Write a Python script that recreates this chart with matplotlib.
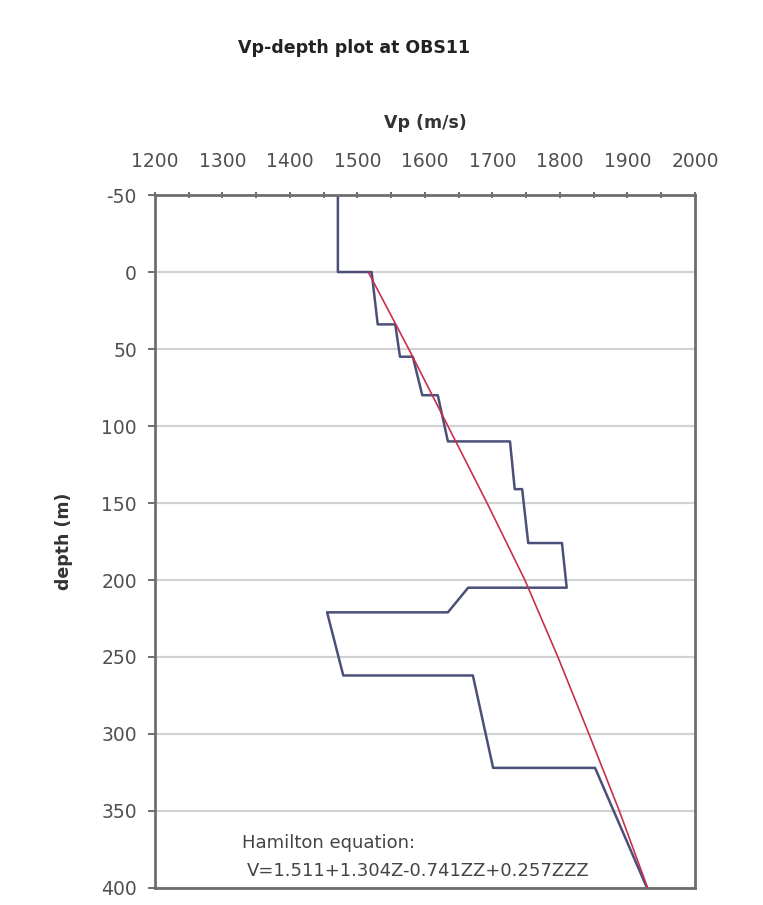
import matplotlib
matplotlib.use("Agg")
import matplotlib.pyplot as plt
from matplotlib.ticker import MultipleLocator

plt.rcParams['font.family'] = ['DejaVu Sans']
plt.rcParams['axes.unicode_minus'] = False

vp_obs = [1471, 1471, 1521, 1530, 1556, 1563, 1582, 1596, 1619, 1634, 1726,
          1733, 1744, 1753, 1803, 1810, 1664, 1634, 1455, 1479, 1671, 1701,
          1852, 1930]
depth_obs = [-50, 0, 0, 34, 34, 55, 55, 80, 80, 110, 110,
             141, 141, 176, 176, 205, 205, 221, 221, 262, 262, 322,
             322, 401]

depth_ham = [0, 50, 100, 150, 200, 250, 300, 350, 400]
vp_ham = [1516, 1576, 1634, 1692, 1748, 1797, 1843, 1888, 1930]

fig = plt.figure(figsize=(7.63, 9.05), dpi=100)
ax = fig.add_axes([0.2031, 0.0188, 0.7077, 0.7657])

ax.plot(vp_ham, depth_ham, color='#c8304f', lw=1.2, zorder=3)
ax.plot(vp_obs, depth_obs, color='#4b5078', lw=1.8, zorder=2)

ax.set_xlim(1200, 2000)
ax.set_ylim(400, -50)
ax.xaxis.tick_top()
ax.xaxis.set_label_position('top')
ax.xaxis.set_major_locator(MultipleLocator(100))
ax.xaxis.set_minor_locator(MultipleLocator(50))
ax.yaxis.set_major_locator(MultipleLocator(50))
ax.tick_params(axis='x', which='both', direction='inout', length=5, width=1.2,
               color='#555555', labelsize=13.5, labelcolor='#505050', pad=15)
ax.tick_params(axis='y', direction='out', length=5, width=1.2, color='#555555',
               labelsize=13.5, labelcolor='#505050', pad=8)

ax.grid(axis='y', color='#d2d2d2', lw=1.6)
for s in ax.spines.values():
    s.set_color('#6e6e6e')
    s.set_linewidth(2)

ax.set_xlabel('Vp (m/s)', fontsize=12.5, fontweight='bold', color='#333333', labelpad=17)
ax.set_ylabel('depth (m)', fontsize=12.5, fontweight='bold', color='#333333', labelpad=20)
fig.text(0.464, 0.947, 'Vp-depth plot at OBS11', ha='center', va='center',
         fontsize=12.5, fontweight='bold', color='#222222')

ax.text(1329, 371, 'Hamilton equation:', fontsize=13, color='#444444', va='center')
ax.text(1336, 389, 'V=1.511+1.304Z-0.741ZZ+0.257ZZZ', fontsize=13,
        color='#444444', va='center')

fig.savefig('out.png', dpi=100)
